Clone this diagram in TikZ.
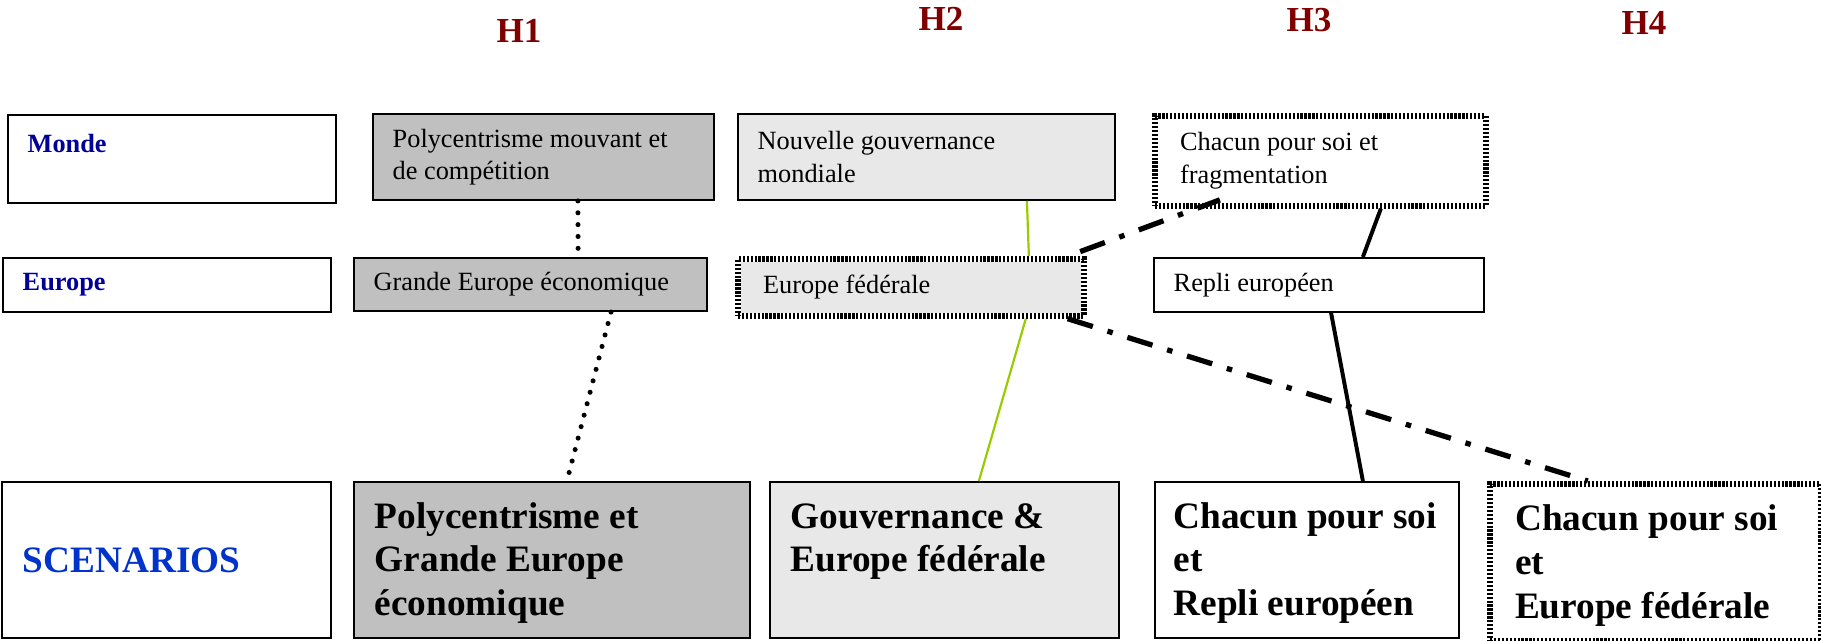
\documentclass[tikz,border=0pt]{standalone}
\usepackage{fontspec}
\setmainfont{Liberation Serif}
\usepackage{xcolor}
\usepackage{tikz}
\usetikzlibrary{positioning}
\definecolor{hred}{HTML}{800000}
\definecolor{rowblue}{HTML}{000099}
\definecolor{scenblue}{HTML}{0033CC}
\definecolor{silverfill}{HTML}{C0C0C0}
\definecolor{speckle}{HTML}{E8E8E8}
\definecolor{lime}{HTML}{99CC00}

\begin{document}
\begin{tikzpicture}[
    x=0.456pt, y=-0.456pt,
    cellbox/.style={
      draw=black, line width=0.9pt, anchor=north west, align=flush left,
      inner xsep=9pt, inner ysep=0pt,
      font=\fontsize{12}{14.8}\selectfont
    },
    rowlabel/.style={cellbox, font=\fontsize{12}{14.8}\selectfont\bfseries, text=rowblue},
    greybox/.style={fill=silverfill},
    speckbox/.style={fill=speckle},
    hatched/.style={
      draw=white, line width=2.6pt, inner xsep=11.5pt,
      postaction={draw=black, line width=2.6pt, dash pattern=on 1pt off 0.8pt}
    },
    scen/.style={
      cellbox, inner xsep=9.5pt, font=\fontsize{17}{20}\selectfont\bfseries,
      text height=12pt, text depth=41pt, minimum height=71pt
    },
    scenlabel/.style={
      cellbox, inner xsep=9.5pt, font=\fontsize{17}{20}\selectfont\bfseries,
      text=scenblue, minimum height=71pt
    },
    head/.style={font=\fontsize{16}{19}\selectfont\bfseries, text=hred},
    dotlink/.style={line width=2.3pt, line cap=round, dash pattern=on 0pt off 5.4pt},
    greenlink/.style={line width=1pt, draw=lime},
    solidlink/.style={line width=1.8pt},
    ddlink/.style={line width=2.4pt, dash pattern=on 12pt off 7pt on 2.5pt off 7pt}
  ]
    \useasboundingbox (0,0) rectangle (1821,640);

    % column heads
    \node[head] (h1) at (519,31) {H1};
    \node[head] (h2) at (941,19) {H2};
    \node[head] (h3) at (1309,20) {H3};
    \node[head] (h4) at (1644,23) {H4};

    % row Monde
    \node[rowlabel, text width=131.6pt, minimum height=40.1pt, text depth=14pt] (monde) at (7,114) {Monde};
    \node[cellbox, greybox, text width=137.5pt, minimum height=39.2pt] (poly) at (372,113) {Polycentrisme mouvant et\\de compétition};
    \node[cellbox, speckbox, text width=153.9pt, minimum height=39.2pt] (gouv) at (737,113) {Nouvelle gouvernance\\mondiale};
    \node[cellbox, hatched, text width=127.9pt, minimum height=41pt] (frag) at (1152,113) {Chacun pour soi et\\fragmentation};

    % row Europe
    \node[rowlabel, text width=131.6pt, minimum height=24.6pt] (europe) at (2,257) {Europe};
    \node[cellbox, greybox, text width=143pt, minimum height=24.2pt] (grande) at (353,257) {Grande Europe économique};
    \node[cellbox, speckbox, hatched, text width=134.8pt, minimum height=26pt] (federale) at (735,256) {Europe fédérale};
    \node[cellbox, text width=132.5pt, minimum height=24.6pt] (repli) at (1153,257) {Repli européen};

    % row scenarios
    \node[scenlabel, text width=131pt] (scenarios) at (1,481) {SCENARIOS};
    \node[scen, greybox, text width=161.6pt] (sc1) at (353,481) {Polycentrisme et\\Grande Europe\\économique};
    \node[scen, speckbox, text width=140.1pt] (sc2) at (769,481) {Gouvernance \&\\Europe fédérale};
    \node[scen, inner xsep=8.5pt, text width=121.6pt] (sc3) at (1154,481) {Chacun~pour~soi\\et\\Repli européen};
    \node[scen, hatched, text width=127.9pt, minimum height=71.6pt] (sc4) at (1487,481) {Chacun pour soi\\et\\Europe fédérale};

    % links
    \draw[dotlink] ([xshift=15.7pt]poly.south) -- ([xshift=21.7pt]grande.north);
    \draw[dotlink] ([xshift=36.7pt]grande.south) -- ([xshift=6.8pt]sc1.north);
    \draw[greenlink] ([xshift=45.8pt]gouv.south) -- ([xshift=53.8pt]federale.north);
    \draw[greenlink] ([xshift=52.4pt]federale.south) -- ([xshift=15.7pt]sc2.north);
    \draw[solidlink] ([xshift=27.6pt]frag.south) -- ([xshift=20pt]repli.north);
    \draw[solidlink] ([xshift=5.5pt]repli.south) -- ([xshift=25.5pt]sc3.north);
    \draw[ddlink] ([xshift=-3pt,yshift=2pt]federale.north east) -- ([xshift=-45.8pt,yshift=4pt]frag.south);
    \draw[ddlink] ([xshift=-8.7pt]federale.south east) -- ([xshift=-30.8pt]sc4.north);
  \end{tikzpicture}
\end{document}
